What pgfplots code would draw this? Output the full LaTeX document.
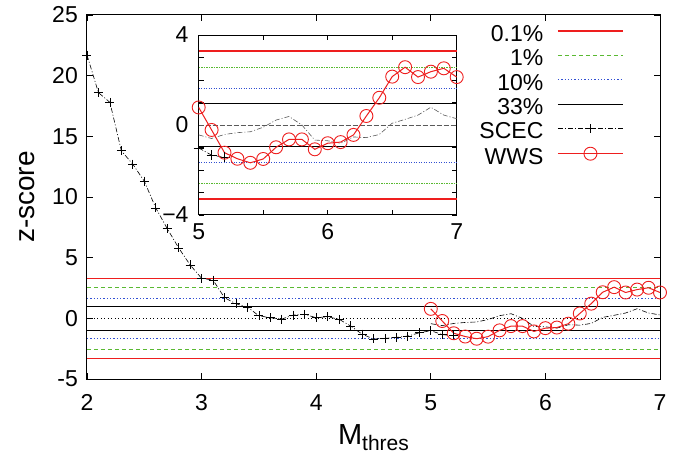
\documentclass[border=0pt]{standalone}
\usepackage{pgfplots}
\pgfplotsset{compat=1.18}
\usepackage{fontspec}
\setmainfont{Liberation Sans}
\definecolor{cred}{RGB}{238,30,30}
\definecolor{cgreen}{RGB}{90,185,50}
\definecolor{cblue}{RGB}{50,80,210}
\definecolor{cgray}{RGB}{90,90,90}
\pgfplotstableread{
x y
2.0 21.7
2.1 18.6
2.2 17.8
2.3 13.8
2.4 12.7
2.5 11.3
2.6 9.1
2.7 7.4
2.8 5.8
2.9 4.4
3.0 3.3
3.1 3.15
3.2 1.7
3.3 1.2
3.4 0.93
3.5 0.21
3.6 0.05
3.7 -0.06
3.8 0.27
3.9 0.33
4.0 0.05
4.1 0.13
4.2 -0.08
4.3 -0.63
4.4 -1.3
4.5 -1.7
4.6 -1.65
4.7 -1.57
4.8 -1.46
4.9 -1.19
5.0 -1.02
5.1 -1.34
5.2 -1.44
}\scec
\pgfplotstableread{
x y
5.0 -1.02
5.1 -1.34
5.2 -1.44
}\scecinset
\pgfplotstableread{
x y
5.0 -0.44
5.1 -0.60
5.2 -0.42
5.3 -0.34
5.4 -0.30
5.5 -0.10
5.6 0.22
5.7 0.38
5.8 0.0
5.9 -0.67
6.0 -0.70
6.1 -0.81
6.2 -0.53
6.3 -0.56
6.4 -0.42
6.5 0.08
6.6 0.25
6.7 0.44
6.8 0.79
6.9 0.44
7.0 0.28
}\scecb
\pgfplotstableread{
x y
5.0 0.78
5.1 -0.22
5.2 -1.23
5.3 -1.50
5.4 -1.68
5.5 -1.51
5.6 -0.99
5.7 -0.64
5.8 -0.64
5.9 -1.08
6.0 -0.81
6.1 -0.76
6.2 -0.44
6.3 0.40
6.4 1.21
6.5 2.15
6.6 2.57
6.7 2.13
6.8 2.37
6.9 2.52
7.0 2.13
}\wws
\begin{document}
\begin{tikzpicture}
\useasboundingbox (0pt,0pt) rectangle (681pt,456pt);
\begin{axis}[
  at={(87pt,77pt)}, anchor=south west,
  width=573pt, height=364pt, scale only axis,
  xmin=2, xmax=7, ymin=-5, ymax=25,
  xtick={2,3,4,5,6,7}, ytick={-5,0,5,10,15,20,25},
  tick align=inside, major tick length=6pt,
  tick style={black, line width=0.8pt},
  axis line style={line width=1pt},
  /pgf/number format/assume math mode=true,
  ticklabel style={font=\fontsize{23}{26}\selectfont},
  xticklabel style={inner sep=0pt, anchor=north, yshift=-15pt},
  yticklabel style={inner sep=0pt, anchor=east, xshift=-9pt},
  ylabel={z-score},
  ylabel style={font=\fontsize{28}{30}\selectfont, at={(axis description cs:-0.105,0.5)}, anchor=center},
  xlabel={M{\fontsize{21}{21}\selectfont\raisebox{-6pt}{thres}}},
  xlabel style={font=\fontsize{29}{30}\selectfont, at={(axis description cs:0.5,-0.181)}, anchor=base},
  clip=false,
  legend cell align=right,
  legend plot pos=right,
  legend style={draw=none, fill=none, at={(0.942,0.978)}, anchor=north east,
    font=\fontsize{23}{26}\selectfont, row sep=0pt, column sep=14pt,
    nodes={inner sep=0pt, text height=16pt, text depth=8.4pt}},
  legend image code/.code={\draw[mark repeat=2,mark phase=2,#1] plot coordinates {(0pt,6.5pt) (32.5pt,6.5pt) (65pt,6.5pt)};},
]
\addplot[cred, line width=1.2pt] coordinates {(2,3.29) (7,3.29)};
\addlegendentry{0.1\%}
\addplot[cgreen, line width=0.9pt, dash pattern=on 4pt off 3pt] coordinates {(2,2.576) (7,2.576)};
\addlegendentry{1\%}
\addplot[cblue, line width=0.9pt, dash pattern=on 1.3pt off 2pt] coordinates {(2,1.645) (7,1.645)};
\addlegendentry{10\%}
\addplot[black, line width=0.8pt] coordinates {(2,0.97) (7,0.97)};
\addlegendentry{33\%}
\addplot[cred, line width=1.2pt, forget plot] coordinates {(2,-3.29) (7,-3.29)};
\addplot[cgreen, line width=0.9pt, dash pattern=on 4pt off 3pt, forget plot] coordinates {(2,-2.576) (7,-2.576)};
\addplot[cblue, line width=0.9pt, dash pattern=on 1.3pt off 2pt, forget plot] coordinates {(2,-1.645) (7,-1.645)};
\addplot[black, line width=0.8pt, forget plot] coordinates {(2,-0.97) (7,-0.97)};
\addplot[black, line width=0.7pt, dash pattern=on 1pt off 2.5pt, forget plot] coordinates {(2,0) (7,0)};
\addplot[black, line width=0.6pt, dash pattern=on 5pt off 2pt on 1pt off 2pt, mark=+, mark size=4.5pt, mark options={solid, line width=0.8pt}] table[x=x,y=y] {\scec};
\addlegendentry{SCEC}
\addplot[black, line width=0.6pt, dash pattern=on 5pt off 2pt on 1pt off 2pt, forget plot] table[x=x,y=y] {\scecb};
\addplot[cred, line width=1pt, mark=o, mark size=6.5pt, mark options={solid, line width=0.9pt}] table[x=x,y=y] {\wws};
\addlegendentry{WWS}
\end{axis}
\begin{axis}[
  at={(198.7pt,241pt)}, anchor=south west,
  width=258pt, height=180pt, scale only axis,
  xmin=5, xmax=7, ymin=-4, ymax=4,
  xtick={5,6,7}, minor xtick={5.5,6.5},
  ytick={-4,0,4}, yticklabels={{\char"2212 4},0,4}, minor ytick={-3,-2,-1,1,2,3},
  tick align=inside, major tick length=5pt, minor tick length=5pt,
  tick style={black, line width=0.8pt},
  axis line style={line width=1pt},
  axis background/.style={fill=white},
  /pgf/number format/assume math mode=true,
  ticklabel style={font=\fontsize{23}{26}\selectfont},
  xticklabel style={inner sep=0pt, anchor=north, yshift=-8pt},
  yticklabel style={inner sep=0pt, anchor=east, xshift=-10pt},
  clip=false,
]
\addplot[cred, line width=1.1pt] coordinates {(5,3.29) (7,3.29)};
\addplot[cred, line width=1.1pt] coordinates {(5,-3.29) (7,-3.29)};
\addplot[cgreen, line width=0.8pt, dash pattern=on 1.5pt off 1pt] coordinates {(5,2.576) (7,2.576)};
\addplot[cgreen, line width=0.8pt, dash pattern=on 1.5pt off 1pt] coordinates {(5,-2.576) (7,-2.576)};
\addplot[cblue, line width=0.8pt, dash pattern=on 1pt off 1.5pt] coordinates {(5,1.645) (7,1.645)};
\addplot[cblue, line width=0.8pt, dash pattern=on 1pt off 1.5pt] coordinates {(5,-1.645) (7,-1.645)};
\addplot[black, line width=0.8pt] coordinates {(5,0.97) (7,0.97)};
\addplot[black, line width=0.8pt] coordinates {(5,-0.97) (7,-0.97)};
\addplot[cgray, line width=0.6pt, dash pattern=on 5pt off 2pt] coordinates {(5,0) (7,0)};
\addplot[black, line width=0.6pt, dash pattern=on 5pt off 2pt on 1pt off 2pt, mark=+, mark size=5pt, mark options={solid, line width=0.8pt}] table[x=x,y=y] {\scecinset};
\addplot[cgray, line width=0.6pt, dash pattern=on 5pt off 2pt on 1pt off 2pt] table[x=x,y=y] {\scecb};
\addplot[cred, line width=1pt, mark=o, mark size=6.5pt, mark options={solid, line width=0.9pt}] table[x=x,y=y] {\wws};
\end{axis}
\end{tikzpicture}
\end{document}
